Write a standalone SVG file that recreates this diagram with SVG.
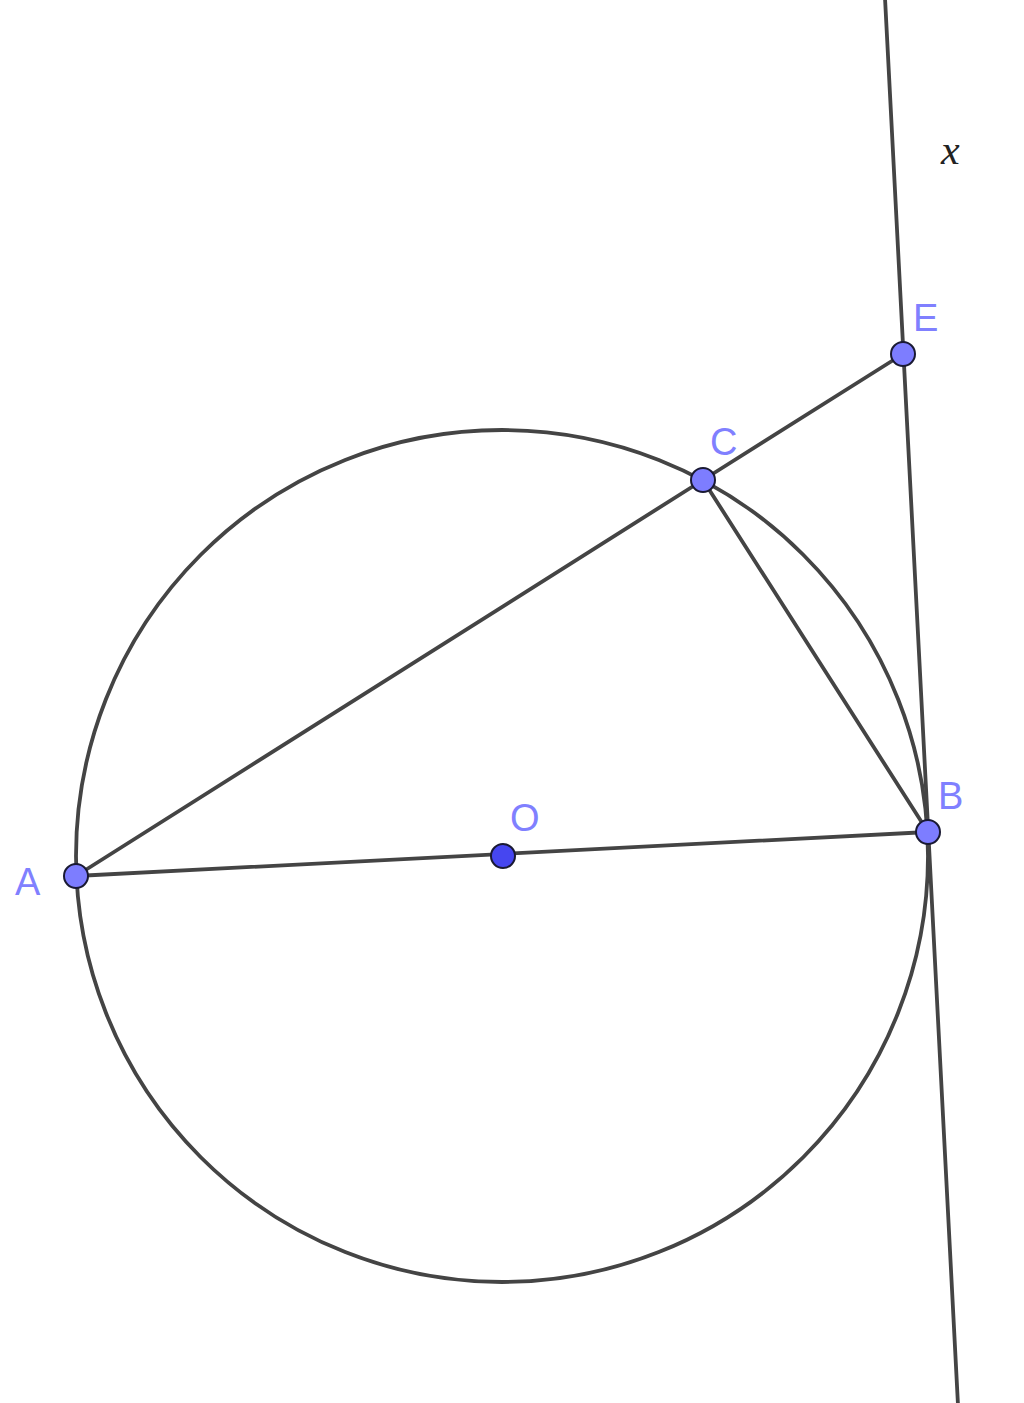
<svg xmlns="http://www.w3.org/2000/svg" width="1024" height="1403" viewBox="0 0 1024 1403">
<style>
.ln{stroke:#444;stroke-width:3.8;fill:none;stroke-linecap:round}
.pt{fill:#7d7dff;stroke:#1a1a33;stroke-width:2}
.pto{fill:#4646f0;stroke:#1a1a33;stroke-width:2}
.lb{font-family:"Liberation Sans",Arial,sans-serif;font-size:38px;fill:#8080ff}
</style>
<rect width="1024" height="1403" fill="#fff"/>
<g id="connectors">
<circle class="ln" cx="502" cy="856" r="426"/>
<line class="ln" x1="885" y1="-2" x2="958" y2="1405"/>
<line class="ln" x1="76" y1="876" x2="928" y2="832"/>
<line class="ln" x1="76" y1="876" x2="703" y2="480"/>
<line class="ln" x1="703" y1="480" x2="903" y2="354"/>
<line class="ln" x1="703" y1="480" x2="928" y2="832"/>
</g>
<g id="label-x"><text x="941" y="164" font-family="'Liberation Serif',serif" font-style="italic" font-size="42" fill="#222">x</text></g>
<g id="node-A"><circle class="pt" cx="76" cy="876" r="12"/><text class="lb" x="15" y="895">A</text></g>
<g id="node-O"><circle class="pto" cx="503" cy="856" r="12"/><text class="lb" x="510" y="831">O</text></g>
<g id="node-B"><circle class="pt" cx="928" cy="832" r="12"/><text class="lb" x="938" y="809">B</text></g>
<g id="node-C"><circle class="pt" cx="703" cy="480" r="12"/><text class="lb" x="710" y="455">C</text></g>
<g id="node-E"><circle class="pt" cx="903" cy="354" r="12"/><text class="lb" x="913" y="331">E</text></g>
</svg>
